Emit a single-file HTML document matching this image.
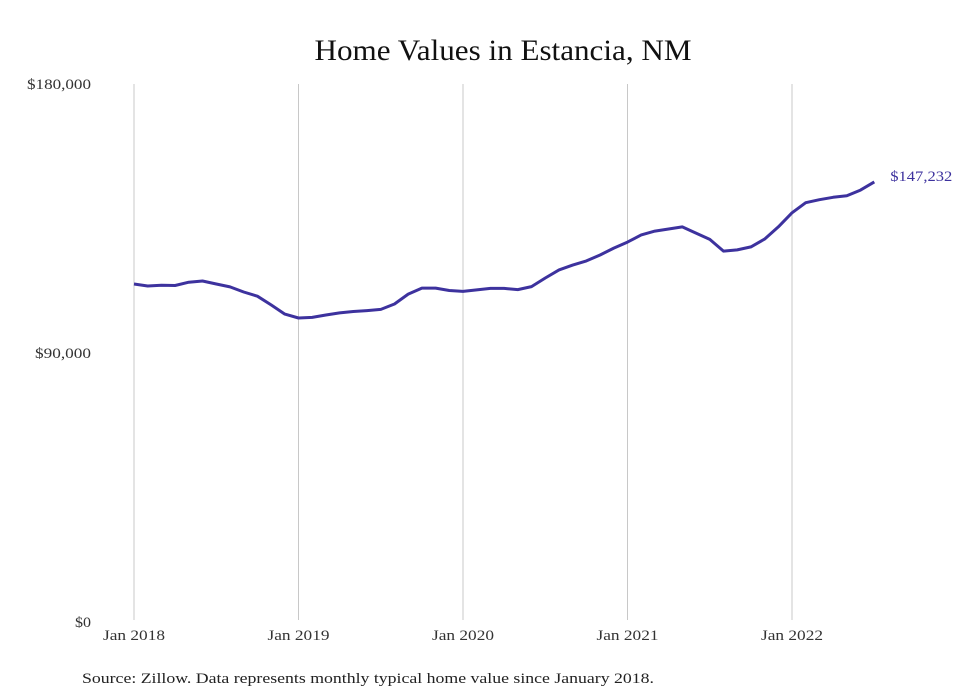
<!DOCTYPE html>
<html><head><meta charset="utf-8"><style>
body{margin:0;background:#fff;}
svg{display:block;font-family:"Liberation Serif",serif;}
</style></head><body>
<svg id="chart" width="980" height="699" viewBox="0 0 980 699">
<text x="503" y="60" text-anchor="middle" font-size="30" fill="#111" textLength="377" lengthAdjust="spacingAndGlyphs">Home Values in Estancia, NM</text>
<g id="grid"></g>
<g id="yaxis"></g>
<g id="xaxis"></g>
<path id="line" fill="none" stroke="#3d329e" stroke-width="3" stroke-linejoin="round"/>
<text id="endlabel" font-size="15" fill="#3d329e" textLength="62" lengthAdjust="spacingAndGlyphs"></text>
<text x="82" y="683" font-size="15" fill="#222" textLength="572" lengthAdjust="spacingAndGlyphs">Source: Zillow. Data represents monthly typical home value since January 2018.</text>
</svg>
<script>
const values = [113.1,112.4,112.7,112.6,113.7,114.1,113.1,112.1,110.4,109.0,106.1,103.0,
101.7,101.9,102.7,103.4,103.9,104.2,104.6,106.4,109.7,111.7,111.7,110.9,
110.6,111.1,111.6,111.6,111.2,112.2,115.1,117.8,119.4,120.8,122.8,125.1,
127.1,129.5,130.8,131.5,132.2,130.1,128.0,124.1,124.5,125.5,128.1,132.2,
136.9,140.3,141.3,142.1,142.6,144.5,147.232];
const yTicks = [0, 90000, 180000];
const yTickLabels = ["$0", "$90,000", "$180,000"];
const xTickMonths = [0, 12, 24, 36, 48];
const xTickLabels = ["Jan 2018", "Jan 2019", "Jan 2020", "Jan 2021", "Jan 2022"];
const lastLabel = "$147,232";

const NS = "http://www.w3.org/2000/svg";
const x0 = 134, monthW = 164.5/12, yBase = 622, yTop = 84;
function xs(m){ return x0 + m*monthW; }
function ys(v){ return yBase - v/180000*(yBase-yTop); }

const grid = document.getElementById('grid');
const xaxis = document.getElementById('xaxis');
xTickMonths.forEach((m,i)=>{
  const l = document.createElementNS(NS,'line');
  l.setAttribute('x1',xs(m)); l.setAttribute('x2',xs(m));
  l.setAttribute('y1',yTop); l.setAttribute('y2',620);
  l.setAttribute('stroke','#c8c8c8'); l.setAttribute('stroke-width','1');
  
  
  grid.appendChild(l);
  const t = document.createElementNS(NS,'text');
  t.setAttribute('x',xs(m)); t.setAttribute('y',640);
  t.setAttribute('text-anchor','middle'); t.setAttribute('font-size','15'); t.setAttribute('fill','#333');
  t.setAttribute('textLength','62'); t.setAttribute('lengthAdjust','spacingAndGlyphs');
  t.textContent = xTickLabels[i];
  
  
  xaxis.appendChild(t);
});
const yaxis = document.getElementById('yaxis');
yTicks.forEach((v,i)=>{
  const t = document.createElementNS(NS,'text');
  t.setAttribute('x',91); t.setAttribute('y',ys(v)+5);
  t.setAttribute('text-anchor','end'); t.setAttribute('font-size','15'); t.setAttribute('fill','#333');
  t.setAttribute('textLength', String(Math.round(yTickLabels[i].length*8)));
  t.setAttribute('lengthAdjust','spacingAndGlyphs');
  t.textContent = yTickLabels[i];
  
  
  yaxis.appendChild(t);
});
let d = values.map((v,i)=>(i?'L':'M')+xs(i).toFixed(1)+' '+ys(v*1000).toFixed(1)).join(' ');
document.getElementById('line').setAttribute('d', d);
const n = values.length-1;
const el = document.getElementById('endlabel');
el.setAttribute('x', xs(n)+16);
el.setAttribute('y', ys(values[n]*1000)-1);
el.textContent = lastLabel;
</script>
</body></html>
